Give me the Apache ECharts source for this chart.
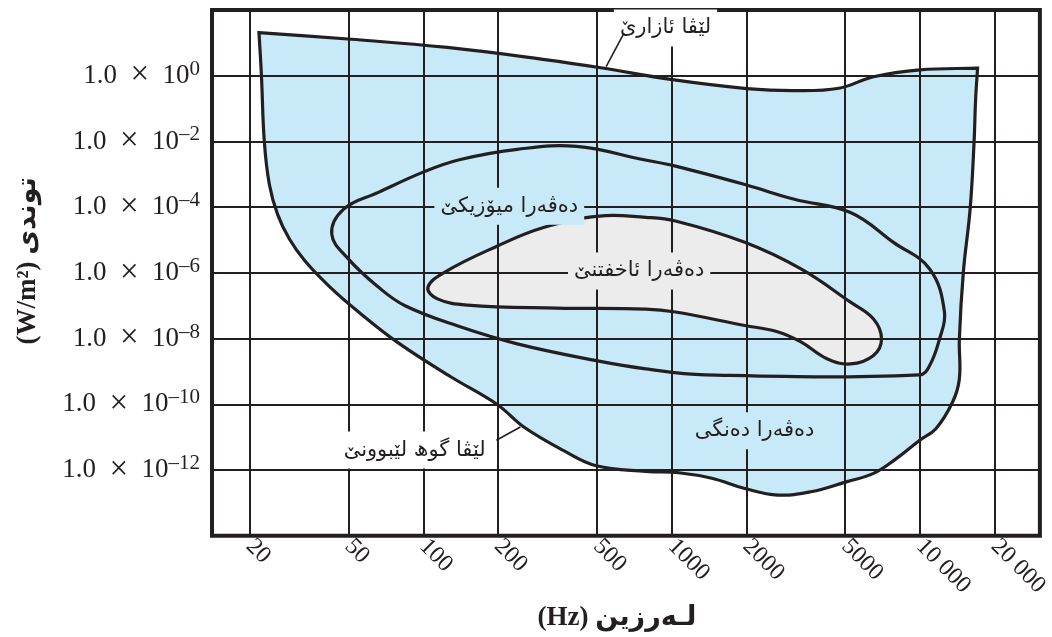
<!DOCTYPE html>
<html><head><meta charset="utf-8">
<script src="https://cdn.jsdelivr.net/npm/echarts@6.0.0/dist/echarts.min.js"></script>
<style>html,body{margin:0;padding:0;background:#fff}#c{width:1052px;height:637px}</style>
</head><body><div id="c"></div>
<script>
// ---- axes ----
const xTickFreqs = [20, 50, 100, 200, 500, 1000, 2000, 5000, 10000, 20000];
const xTickLabels = ['20', '50', '100', '200', '500', '1000', '2000', '5000', '10 000', '20 000'];
const xRangeHz = [14.1, 30400];
const yTickExponents = [0, -2, -4, -6, -8, -10, -12];
const yRangeExp = [-14, 2];

// ---- outer audible area (threshold of pain on top, threshold of hearing below) ----
const audibleHz  = [21.8, 21.8, 51.3, 125, 314, 511, 1008, 2007, 3119, 4715, 6500, 10000, 17060, 17060,
                    16750, 16520, 15940, 14950, 14410, 14410, 13550, 11590, 9980, 8030, 6500, 5090, 3636, 2676,
                    1970, 1451, 1068, 787, 497, 366, 254, 199, 129, 79.3, 54.9, 41.7, 33.4, 28.9, 25.9, 24.0, 22.9, 22.3];
const audibleExp = [1.31, 1.31, 1.11, 0.86, 0.485, 0.25, -0.12, -0.39, -0.455, -0.38, -0.03, 0.18, 0.23, 0.23,
                    -0.73, -1.99, -4.01, -5.98, -8.01, -9.22, -9.92, -10.74, -11.09, -11.65, -12.10, -12.35, -12.66, -12.76,
                    -12.56, -12.25, -12.08, -12.04, -11.87, -11.40, -10.69, -10.01, -9.16, -8.13, -7.19, -6.40, -5.64, -4.97, -4.22, -3.31, -2.0, 0];

// ---- music area ----
const musicHz  = [42.8, 47.8, 65.9, 101.6, 141, 239, 414, 765, 1036, 1970, 3119, 5250, 7820, 10940, 12550, 11990, 10940, 9980,
                  1365, 787, 497, 239, 137, 84.5, 65.9, 50];
const musicExp = [-4.82, -4.06, -3.55, -2.91, -2.55, -2.24, -2.15, -2.55, -2.75, -3.31, -3.76, -4.16, -5.07, -5.88, -7.19, -8.01, -8.82, -9.10,
                  -9.10, -8.92, -8.67, -8.16, -7.61, -7.0, -6.43, -5.58];

// ---- speech area ----
const speechHz  = [104.4, 121.7, 199, 305, 512, 787, 1036, 1970, 3317, 5250, 6500, 7000, 6500, 5250, 4223, 3317, 2668, 1970, 1036, 787, 344, 151, 114];
const speechExp = [-6.44, -5.98, -5.18, -4.62, -4.27, -4.31, -4.42, -5.07, -5.88, -6.89, -7.40, -8.01, -8.51, -8.77, -8.61, -8.10, -7.79, -7.60, -7.19, -7.10, -7.07, -6.98, -6.79];

// ---- annotations ----
const annotationTexts = ['لێڤا ئازارێ', 'دەڤەرا میۆزیکێ', 'دەڤەرا ئاخفتنێ', 'لێڤا گوھ لێبوونێ', 'دەڤەرا دەنگی'];
const annotationHz  = [945, 222, 740, 92.3, 2158];
const annotationExp = [1.456, -3.97, -5.94, -11.39, -10.80];
const leaderFromHz  = [643, 197];
const leaderFromExp = [1.30, -11.09];
const leaderToHz    = [545, 246];
const leaderToExp   = [0.28, -10.69];

const INK = '#231f20';
const annotationBg = ['#ffffff', '#c8e9f8', '#ececec', '#ffffff', '#c8e9f8'];
const lg = Math.log10;

function regionSeries(name, hz, exp, fill, z) {
  return {
    type: 'custom', name: name, z: z, silent: true, animation: false,
    coordinateSystem: 'cartesian2d',
    data: hz.map((f, i) => [lg(f), exp[i]]),
    encode: { x: 0, y: 1 },
    renderItem: function (params, api) {
      if (params.dataIndex !== 0) return null;
      const pts = hz.map((f, i) => api.coord([lg(f), exp[i]]));
      return { type: 'polygon', shape: { points: pts, smooth: 0.4 },
               style: { fill: fill, stroke: INK, lineWidth: 3.2 } };
    }
  };
}

const chart = echarts.init(document.getElementById('c'), null, { renderer: 'canvas' });
chart.setOption({
  animation: false,
  grid: { left: 212, right: 4, top: 10, bottom: 99, show: true, borderColor: INK, borderWidth: 4, backgroundColor: 'transparent' },
  xAxis: {
    type: 'value', min: lg(xRangeHz[0]), max: lg(xRangeHz[1]), z: 5,
    name: '(Hz) لـەرزین', nameLocation: 'middle', nameGap: 64,
    nameTextStyle: { fontSize: 27, fontWeight: 'bold', color: INK, fontFamily: '"Liberation Serif", "DejaVu Sans", serif', padding: [0, 18, 0, 0] },
    axisLine: { show: false }, axisTick: { show: false, customValues: xTickFreqs.map(lg) },
    splitLine: { show: true, lineStyle: { color: INK, width: 2 } },
    axisLabel: {
      customValues: xTickFreqs.map(lg), rotate: -45, margin: 7,
      fontSize: 24, color: INK, fontFamily: '"Liberation Serif", serif',
      formatter: function (v) {
        let best = 0;
        xTickFreqs.forEach((f, i) => { if (Math.abs(lg(f) - v) < Math.abs(lg(xTickFreqs[best]) - v)) best = i; });
        return xTickLabels[best];
      }
    }
  },
  yAxis: {
    type: 'value', min: yRangeExp[0], max: yRangeExp[1], interval: 2, z: 5,
    name: '(W/m²) توندی', nameLocation: 'middle', nameGap: 170,
    nameTextStyle: { fontSize: 27, fontWeight: 'bold', color: INK, fontFamily: '"Liberation Serif", "DejaVu Sans", serif', padding: [0, 0, 0, 24] },
    axisLine: { show: false }, axisTick: { show: false },
    splitLine: { show: true, lineStyle: { color: INK, width: 2 } },
    axisLabel: {
      margin: 12, color: INK,
      formatter: function (v) {
        if (yTickExponents.indexOf(v) < 0) return '';
        const e = v === 0 ? '0' : '–' + Math.abs(v);
        return '{b|1.0\u2002}{x|×}{b|\u200210}{s|' + e + '}';
      },
      rich: {
        b: { fontSize: 27, fontFamily: '"Liberation Serif", serif', color: INK, lineHeight: 34 },
        x: { fontSize: 33, fontFamily: '"Liberation Serif", serif', color: INK, lineHeight: 34 },
        s: { fontSize: 21, fontFamily: '"Liberation Serif", serif', color: INK, lineHeight: 20, verticalAlign: 'top' }
      }
    }
  },
  series: [
    regionSeries('audible', audibleHz, audibleExp, '#c8e9f8', 2),
    regionSeries('music', musicHz, musicExp, 'rgba(0,0,0,0)', 3),
    regionSeries('speech', speechHz, speechExp, '#ececec', 3),
    {
      type: 'custom', name: 'labels', z: 20, silent: true, animation: false,
      data: annotationHz.map((f, i) => [lg(f), annotationExp[i]]),
      encode: { x: 0, y: 1 },
      renderItem: function (params, api) {
        const i = params.dataIndex;
        const p = api.coord([api.value(0), api.value(1)]);
        return { type: 'text', x: p[0], y: p[1],
          style: { text: annotationTexts[i], fill: INK, font: '21px "DejaVu Sans", sans-serif',
                   align: 'center', verticalAlign: 'middle', backgroundColor: annotationBg[i], padding: [8, 6] } };
      }
    },
    {
      type: 'custom', name: 'leaders', z: 21, silent: true, animation: false,
      data: leaderFromHz.map((f, i) => [lg(f), leaderFromExp[i], lg(leaderToHz[i]), leaderToExp[i]]),
      encode: { x: [0, 2], y: [1, 3] },
      renderItem: function (params, api) {
        const a = api.coord([api.value(0), api.value(1)]);
        const b = api.coord([api.value(2), api.value(3)]);
        return { type: 'line', shape: { x1: a[0], y1: a[1], x2: b[0], y2: b[1] }, style: { stroke: INK, lineWidth: 1.6 } };
      }
    }
  ]
});
</script></body></html>
